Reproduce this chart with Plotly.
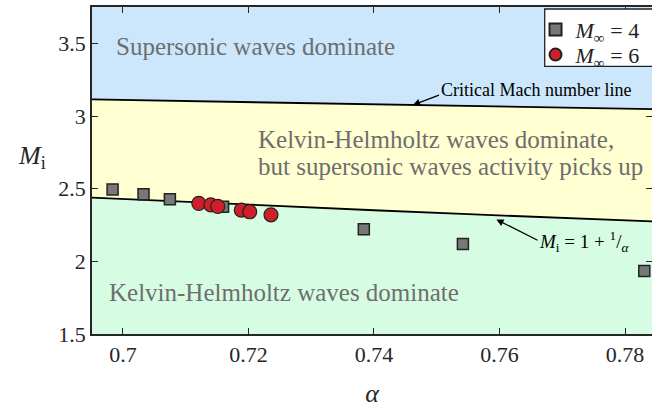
import plotly.graph_objects as go

# Data
alpha_m4 = [0.69835, 0.70328, 0.70748, 0.71595, 0.73838, 0.75417, 0.78307]
mi_m4 = [2.495, 2.461, 2.428, 2.376, 2.220, 2.119, 1.933]
alpha_m6 = [0.71209, 0.71400, 0.71511, 0.71886, 0.72020, 0.72359]
mi_m6 = [2.399, 2.389, 2.378, 2.353, 2.341, 2.320]

# M_i = 1 + 1/alpha (values tabulated)
alpha_line = [0.695, 0.71, 0.725, 0.74, 0.755, 0.77, 0.785]
mi_line = [2.4388, 2.4085, 2.3793, 2.3514, 2.3245, 2.2987, 2.2739]
# Critical Mach number line
alpha_crit = [0.695, 0.785]
mi_crit = [3.114, 3.047]

x_range = [0.69507, 0.7843]
y_range = [1.5, 3.75]
x_ticks = [0.7, 0.72, 0.74, 0.76, 0.78]
x_ticklabels = ["0.7", "0.72", "0.74", "0.76", "0.78"]
y_ticks = [1.5, 2, 2.5, 3, 3.5]
y_ticklabels = ["1.5", "2", "2.5", "3", "3.5"]

FONT = "Liberation Serif"
GREEN = "#d6fde3"
YELLOW = "#ffffd2"
BLUE = "#cce7fb"
INK = "#262626"

fig = go.Figure()
fig.add_trace(go.Scatter(x=alpha_line, y=[y_range[0]] * len(alpha_line), mode="lines",
                         line=dict(width=0), showlegend=False, hoverinfo="skip"))
fig.add_trace(go.Scatter(x=alpha_line, y=mi_line, mode="lines", fill="tonexty",
                         fillcolor=GREEN, line=dict(color="black", width=1.8),
                         showlegend=False, hoverinfo="skip"))
fig.add_trace(go.Scatter(x=alpha_crit, y=mi_crit, mode="lines", fill="tonexty",
                         fillcolor=YELLOW, line=dict(color="black", width=1.8),
                         showlegend=False, hoverinfo="skip"))
fig.add_trace(go.Scatter(x=alpha_crit, y=[y_range[1]] * len(alpha_crit), mode="lines", fill="tonexty",
                         fillcolor=BLUE, line=dict(width=0),
                         showlegend=False, hoverinfo="skip"))
fig.add_trace(go.Scatter(x=alpha_m4, y=mi_m4, mode="markers", name="<i>M</i><sub>∞</sub> = 4",
                         legend="legend",
                         marker=dict(symbol="square", size=11, color="#787878",
                                     line=dict(color="#222222", width=1.5))))
fig.add_trace(go.Scatter(x=alpha_m6, y=mi_m6, mode="markers", name="<i>M</i><sub>∞</sub> = 6",
                         legend="legend2",
                         marker=dict(symbol="circle", size=14, color="#cf1f2a",
                                     line=dict(color="#222222", width=1.2))))

grey = "#6e6e6e"
RS = 25
anns = [
    dict(x=0.040, y=0.878, text="Supersonic waves dominate"),
    dict(x=0.292, y=0.594, text="Kelvin-Helmholtz waves dominate,"),
    dict(x=0.292, y=0.512, text="but supersonic waves activity picks up"),
    dict(x=0.026, y=0.128, text="Kelvin-Helmholtz waves dominate"),
]
for a in anns:
    fig.add_annotation(xref="paper", yref="paper", x=a["x"], y=a["y"], text=a["text"],
                       showarrow=False, xanchor="left", yanchor="middle",
                       font=dict(family=FONT, size=RS, color=grey))

# Critical Mach number line annotation
fig.add_annotation(x=0.7462, y=3.076, xref="x", yref="y", ax=0.7506, ay=3.148, axref="x", ayref="y",
                   text="", showarrow=True, arrowhead=2, arrowsize=1.1, arrowwidth=1.3, arrowcolor="black")
fig.add_annotation(x=0.7503, y=3.178, xref="x", yref="y", text="Critical Mach number line",
                   showarrow=False, xanchor="left", yanchor="middle",
                   font=dict(family=FONT, size=18, color="black"))

# M_i = 1 + 1/alpha annotation
fig.add_annotation(x=0.7595, y=2.288, xref="x", yref="y", ax=0.7663, ay=2.140, axref="x", ayref="y",
                   text="", showarrow=True, arrowhead=2, arrowsize=1.1, arrowwidth=1.3, arrowcolor="black")
fig.add_annotation(x=0.7660, y=2.137, xref="x", yref="y",
                   text="<i>M</i><sub>i</sub> = 1 + <sup>1</sup>/<sub><i>α</i></sub>",
                   showarrow=False, xanchor="left", yanchor="middle",
                   font=dict(family=FONT, size=19, color="black"))

axis_common = dict(showline=True, linecolor=INK, linewidth=1.5, mirror="ticks",
                   ticks="inside", ticklen=6, tickwidth=1.2, tickcolor=INK,
                   showgrid=False, zeroline=False,
                   tickfont=dict(family=FONT, size=22, color=INK))

fig.update_xaxes(range=x_range, tickvals=x_ticks, ticktext=x_ticklabels,
                 title=dict(text="<i>α</i>", font=dict(family=FONT, size=26, color=INK), standoff=18),
                 **axis_common)
fig.update_yaxes(range=y_range, tickvals=y_ticks, ticktext=y_ticklabels, **axis_common)
fig.add_annotation(xref="paper", yref="paper", x=-0.107, y=0.54, text="<i>M</i><sub>i</sub>",
                   showarrow=False, xanchor="center", yanchor="middle",
                   font=dict(family=FONT, size=26, color=INK))

# legend frame (legends themselves transparent on top)
fig.add_shape(type="rect", xref="paper", yref="paper", x0=0.8084, x1=1.02, y0=0.8186, y1=0.9939,
              fillcolor="white", line=dict(color="#222222", width=1.3), layer="above")

leg_common = dict(x=0.792, xanchor="left", yanchor="top",
                  bgcolor="rgba(0,0,0,0)", borderwidth=0,
                  font=dict(family=FONT, size=22, color="#222222"),
                  itemsizing="constant")

fig.update_layout(
    width=652, height=409,
    margin=dict(l=92, r=0, t=7, b=75, autoexpand=False),
    paper_bgcolor="white", plot_bgcolor="white",
    legend=dict(y=0.995, **leg_common),
    legend2=dict(y=0.918, **leg_common),
)

fig.write_html("out.html", config={"displayModeBar": False},
               post_script="document.body.style.margin='0';document.body.style.overflow='hidden';")
